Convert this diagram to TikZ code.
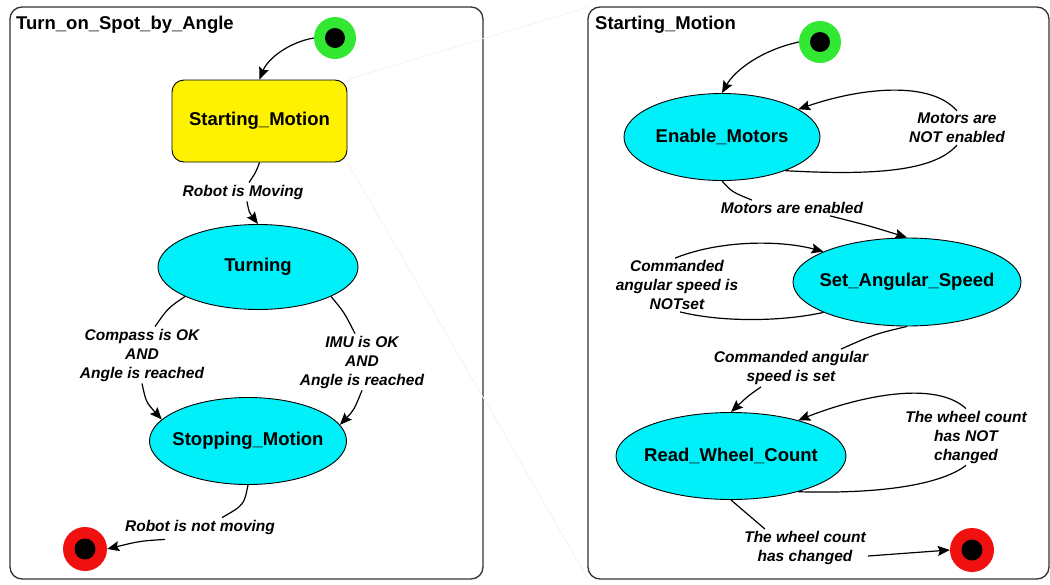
\documentclass[tikz,border=0pt]{standalone}
\usepackage{fontspec}
\setmainfont{Liberation Sans}
\usetikzlibrary{arrows.meta,shapes.geometric}
\definecolor{initgreen}{RGB}{50,232,50}
\definecolor{finalred}{RGB}{240,16,16}
\definecolor{statecyan}{RGB}{0,240,250}
\begin{document}
\begin{tikzpicture}[x=1pt,y=-1pt,every node/.style={font=\bfseries\fontsize{18.5}{21}\selectfont},
  frame/.style={draw=black!80,line width=1.3pt,rounded corners=12pt},
  state/.style={ellipse,draw,fill=statecyan,line width=0.9pt,inner xsep=-7pt,inner ysep=0pt},
  box/.style={rectangle,rounded corners=12pt,draw,fill=yellow,line width=0.9pt,minimum width=175pt,minimum height=82pt},
  initst/.style={circle,fill=initgreen,minimum size=42pt,inner sep=0pt,path picture={\fill[black] (path picture bounding box.center) circle (10pt);}},
  finalst/.style={circle,fill=finalred,minimum size=44pt,inner sep=0pt,path picture={\fill[black] (path picture bounding box.center) circle (10.5pt);}},
  lbl/.style={font=\bfseries\itshape\fontsize{15.5}{19}\selectfont,align=center,inner sep=2pt},
  tr/.style={line width=1.2pt},
  tra/.style={tr,-{Stealth[length=12pt,width=10pt,inset=2pt]}}]
\useasboundingbox (0,0) rectangle (1050,584);
% panels
\draw[frame] (10,7) rectangle (483,579); \draw[frame] (588,7) rectangle (1049,579);
\coordinate (p2nw) at (588,7); \coordinate (p2sw) at (588,579);
\node[anchor=west,inner sep=0pt] (title1) at (16,25) {Turn\_on\_Spot\_by\_Angle};
\node[anchor=west,inner sep=0pt] (title2) at (595,25) {Starting\_Motion};
% Turn_on_Spot_by_Angle
\node[initst] (init1) at (335,38) {};
\node[box] (start) at (259.5,121) {Starting\_Motion};
\node[state,minimum width=200pt,minimum height=85pt] (turning) at (258,267) {Turning};
\node[state,minimum width=197pt,minimum height=87pt] (stopping) at (248,441) {Stopping\_Motion};
\node[finalst] (final1) at (85,549) {};
\node[lbl] (l1) at (243,192) {Robot is Moving};
\node[lbl] (l2) at (142,355) {Compass is OK\\AND\\Angle is reached};
\node[lbl] (l3) at (362,362) {IMU is OK\\AND\\Angle is reached};
\node[lbl] (l4) at (200,527) {Robot is not moving};
\draw[tra] (init1.west) .. controls (290,42) and (268,58) .. (start.north);
\draw[tr] (start.south) .. controls (256,172) .. ([xshift=6pt]l1.north); \draw[tra] ([xshift=4pt]l1.south) .. controls (249,212) .. (turning.north);
\draw[tr] (turning.202) .. controls (168,308) .. ([xshift=13pt]l2.north); \draw[tra] (l2.south) .. controls (146,402) .. (stopping.166);
\draw[tr] (turning.338) .. controls (344,312) .. ([xshift=-7pt]l3.north); \draw[tra] (l3.south) .. controls (354,410) .. (stopping.10);
\draw[tr] (stopping.south) .. controls (244,505) .. ([xshift=22pt]l4.north); \draw[tra] ([xshift=-35pt,yshift=-3pt]l4.south) .. controls (140,541) .. (final1.east);
% Starting_Motion
\node[initst] (init2) at (820,42) {};
\node[state,minimum width=196pt,minimum height=87pt] (enable) at (722,137) {Enable\_Motors};
\node[state,minimum width=228pt,minimum height=88pt] (setspeed) at (907,282) {Set\_Angular\_Speed};
\node[state,minimum width=230pt,minimum height=87pt] (readcount) at (731,456) {Read\_Wheel\_Count};
\node[finalst] (final2) at (972,550) {};
\node[lbl] (l5) at (957,128) {Motors are\\NOT enabled};
\node[lbl] (l6) at (792,208) {Motors are enabled};
\node[lbl] (l7) at (677,285) {Commanded\\angular speed is\\NOTset};
\node[lbl] (l8) at (791,368) {Commanded angular\\speed is set};
\node[lbl] (l9) at (966,437) {The wheel count\\has NOT\\changed};
\node[lbl] (l10) at (805,548) {The wheel count\\has changed};
\draw[tra] (init2.west) .. controls (762,50) and (735,70) .. (enable.north);
\draw[tr] (enable.332) .. controls (880,176) and (935,170) .. (l5.south); \draw[tra] (l5.north) .. controls (930,80) and (860,88) .. (enable.20);
\draw[tr] (enable.south) .. controls (732,192) .. ([xshift=-40pt]l6.north); \draw[tra] ([xshift=38pt]l6.south) .. controls (870,226) .. (setspeed.north);
\draw[tr] (setspeed.200) .. controls (780,322) and (720,322) .. ([xshift=3pt]l7.south); \draw[tra] ([xshift=-2pt]l7.north) .. controls (720,240) and (780,240) .. (setspeed.160);
\draw[tr] (setspeed.south) .. controls (875,334) .. ([xshift=50pt]l8.north); \draw[tra] ([xshift=-30pt]l8.south) .. controls (748,396) .. (readcount.north);
\draw[tr] (readcount.332) .. controls (880,494) and (940,485) .. (l9.south); \draw[tra] (l9.north) .. controls (935,380) and (860,396) .. (readcount.28);
\draw[tr] (readcount.south) .. controls (745,512) .. ([xshift=-40pt]l10.north); \draw[tra] ([yshift=-8pt]l10.east) -- (final2.west);
% zoom lines
\draw[black!5,line width=0.8pt] (start.north east) -- (p2nw); \draw[black!5,line width=0.8pt] (start.south east) -- (p2sw);
\end{tikzpicture}
\end{document}
